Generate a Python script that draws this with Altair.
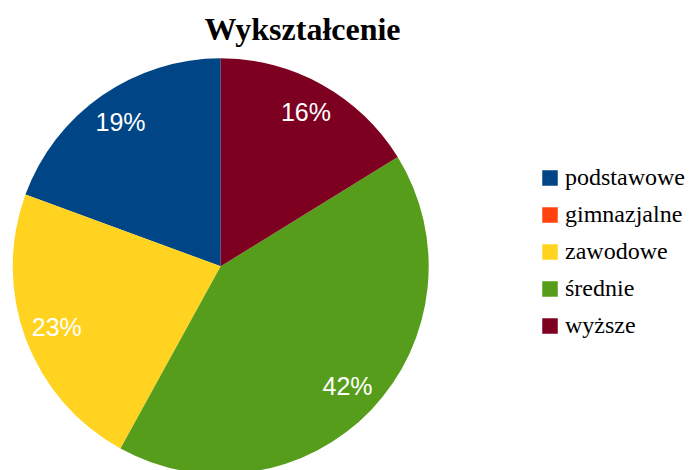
import altair as alt
import pandas as pd

title_text = "Wykształcenie"
categories = ["podstawowe", "gimnazjalne", "zawodowe", "średnie", "wyższe"]
share = [19.4, 0.0, 22.6, 41.8, 16.2]
label_text = ["19%", "", "23%", "42%", "16%"]
colors = ["#004586", "#ff420e", "#ffd320", "#579d1c", "#7e0021"]
order_idx = [5, 4, 3, 2, 1]

df = pd.DataFrame({
    "kat": categories,
    "val": share,
    "ord": order_idx,
    "lab": label_text,
})

color = alt.Color(
    "kat:N",
    scale=alt.Scale(domain=categories, range=colors),
    legend=alt.Legend(
        title=None,
        orient="none",
        legendX=530,
        legendY=158,
        symbolType="square",
        symbolSize=240,
        symbolStrokeWidth=0,
        labelFont="Liberation Serif",
        labelFontSize=24,
        labelColor="#000000",
        labelLimit=300,
        rowPadding=13,
        symbolOffset=0,
        labelOffset=3,
    ),
)

base = alt.Chart(df).encode(
    theta=alt.Theta("val:Q", stack=True),
    order=alt.Order("ord:Q"),
)

arcs = base.mark_arc(radius=208, stroke=None).encode(
    color=color,
    x=alt.value(212.7),
    y=alt.value(258.3),
)

labels = base.mark_text(
    radius=175, font="Liberation Sans", fontSize=25, color="white"
).encode(
    text="lab:N",
    x=alt.value(212.7),
    y=alt.value(258.3),
)

title = alt.Chart(pd.DataFrame({"t": [title_text]})).mark_text(
    font="Liberation Serif",
    fontSize=32,
    fontWeight="bold",
    color="#000000",
    align="center",
    baseline="alphabetic",
).encode(
    text="t:N",
    x=alt.value(294.5),
    y=alt.value(32),
)

chart = (
    alt.layer(arcs, labels, title)
    .properties(
        width=684,
        height=470,
        padding=0,
        autosize=alt.AutoSizeParams(type="none"),
    )
    .configure_view(strokeWidth=0)
)

chart.save("out.html", embed_options={"renderer": "svg", "actions": False})
